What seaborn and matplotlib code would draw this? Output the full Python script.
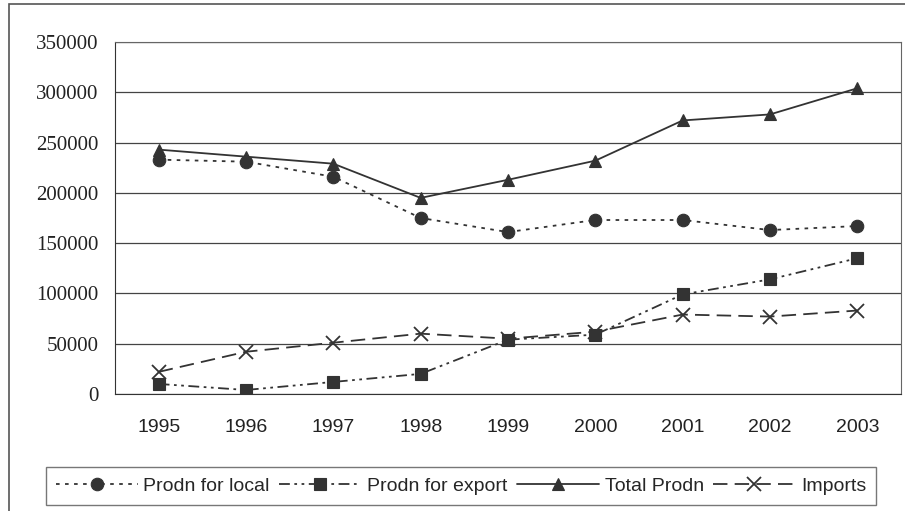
import pandas as pd
import seaborn as sns
import matplotlib.pyplot as plt
from matplotlib.patches import Rectangle

# Données
years = ['1995', '1996', '1997', '1998', '1999', '2000', '2001', '2002', '2003']
prodn_local = [233000, 231000, 216000, 175000, 161000, 173000, 173000, 163000, 167000]
prodn_export = [10000, 4000, 12000, 20000, 54000, 59000, 99000, 114000, 135000]
total_prodn = [243000, 236000, 229000, 195000, 213000, 232000, 272000, 278000, 304000]
imports = [22000, 42000, 51000, 60000, 55000, 62000, 79000, 77000, 83000]

series = {
    'Prodn for local': prodn_local,
    'Prodn for export': prodn_export,
    'Total Prodn': total_prodn,
    'Imports': imports,
}

sns.set_style('white')
plt.rcParams['font.family'] = ['Liberation Sans', 'DejaVu Sans']

fig = plt.figure(figsize=(9.05, 5.11), dpi=100)
W, H = 905, 511
ax = fig.add_axes([115 / W, 1 - 394 / H, (901 - 115) / W, (394 - 42) / H])

# cadre extérieur
fig.patches.append(Rectangle((9 / W, -0.01), 1.0, 1 - 4 / H + 0.01, transform=fig.transFigure,
                             fill=False, edgecolor='#555555', linewidth=1.2))

dash_styles = {
    'Prodn for local': (2, 3),
    'Prodn for export': (6, 2.5, 1.5, 2.5, 1.5, 2.5),
    'Total Prodn': None,
    'Imports': (8, 4),
}
markers = {'Prodn for local': 'o', 'Prodn for export': 's', 'Total Prodn': '^', 'Imports': 'x'}
col = '#333333'

for name, vals in series.items():
    d = pd.DataFrame({'pos': range(len(years)), 'value': vals})
    kw = dict(marker=markers[name], markersize=9, color=col, linewidth=1.3, label=name,
              markeredgecolor=col)
    if markers[name] == 'x':
        kw.update(markeredgewidth=1.3, markersize=10)
    else:
        kw.update(markerfacecolor=col, markeredgewidth=0.8)
    if dash_styles[name] is not None:
        kw['dashes'] = dash_styles[name]
    sns.lineplot(data=d, x='pos', y='value', ax=ax, **kw)

ax.set_xlim(-0.5, len(years) - 0.5)
ax.set_ylim(0, 350000)
ax.set_yticks(range(0, 350001, 50000))
ax.set_yticklabels([str(v) for v in range(0, 350001, 50000)],
                   fontfamily='Liberation Serif', fontsize=15, color='#222222')
ax.set_xticks([i - 0.5 for i in range(len(years) + 1)])
ax.set_xticklabels([])
ax.set_xticks(range(len(years)), minor=True)
ax.set_xticklabels(years, minor=True, fontsize=14, color='#222222')
ax.tick_params(axis='x', which='major', direction='out', length=5, color='#444444')
ax.tick_params(axis='x', which='minor', length=0, pad=18)
ax.tick_params(axis='y', direction='out', length=5, color='#444444', pad=7)
ax.set_xlabel('')
ax.set_ylabel('')
ax.grid(axis='y', color='#444444', linewidth=0.9)
for side in ['top', 'right']:
    ax.spines[side].set_color('#666666')
for side in ['left', 'bottom']:
    ax.spines[side].set_color('#333333')

handles, labels = ax.get_legend_handles_labels()
if ax.get_legend() is not None:
    ax.get_legend().remove()
leg = fig.legend(handles, labels, loc='center', bbox_to_anchor=(461 / W, 1 - 486 / H),
                 ncol=4, frameon=True, fancybox=False, edgecolor='#555555', fontsize=14,
                 handlelength=4.2, columnspacing=0.5, handletextpad=0.3, borderpad=0.5)
leg.get_frame().set_linewidth(1.0)

fig.savefig('out.png', dpi=100)
